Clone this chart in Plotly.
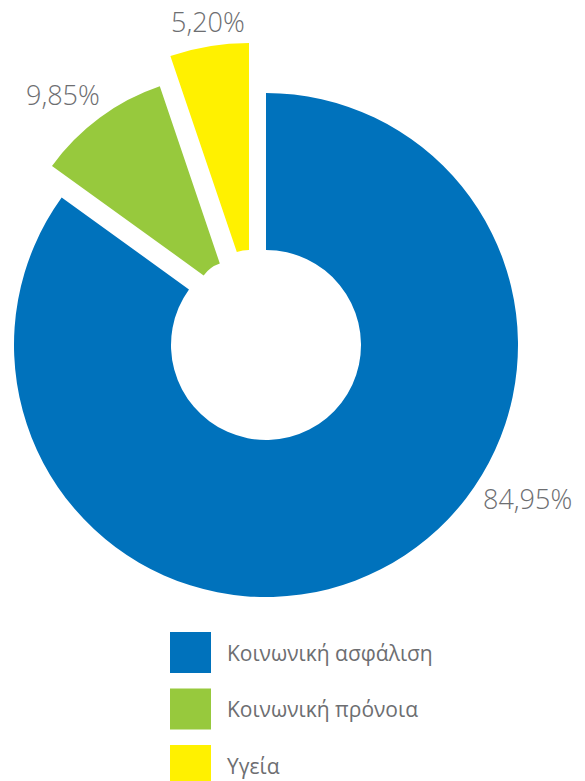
import plotly.graph_objects as go

# ---- data ----
categories = ["Κοινωνική ασφάλιση", "Κοινωνική πρόνοια", "Υγεία"]
shares = [84.95, 9.85, 5.20]
share_labels = ["84,95%", "9,85%", "5,20%"]
colors = ["#0072BC", "#97C93D", "#FFF100"]

# ---- layout geometry (pixels) ----
W, H = 585, 781
TRANSPARENT = "rgba(0,0,0,0)"
FONT = "Open Sans, Noto Sans, sans-serif"
TEXT_COLOR = "#6d6e71"

# each slice drawn as its own pie at its (exploded) centre: (cx, cy, radius, hole)
slice_geom = [
    (266, 345, 252, 0.377),
    (230.4, 294.7, 220, 0.15),
    (249, 288, 245, 0.155),
]
label_pos = [(527, 498), (63, 94), (208, 21)]


def dom(cx, cy, r):
    return dict(x=[(cx - r) / W, (cx + r) / W],
                y=[1 - (cy + r) / H, 1 - (cy - r) / H])


fig = go.Figure()

for i, (cx, cy, r, hole) in enumerate(slice_geom):
    cols = [colors[j] if j == i else TRANSPARENT for j in range(len(shares))]
    fig.add_trace(go.Pie(
        labels=categories,
        values=shares,
        sort=False,
        direction="clockwise",
        rotation=0,
        hole=hole,
        marker=dict(colors=cols, line=dict(width=0)),
        textinfo="none",
        hoverinfo="skip" if i else "label+percent",
        domain=dom(cx, cy, r),
        showlegend=False,
    ))

# legend built from the category list
leg_x, leg_y0, leg_step, leg_size = 190.5, 652.5, 56.5, 41
fig.add_trace(go.Scatter(
    x=[leg_x] * len(categories),
    y=[leg_y0 + k * leg_step for k in range(len(categories))],
    mode="markers",
    marker=dict(symbol="square", size=leg_size, color=colors, line=dict(width=0)),
    hoverinfo="skip",
    showlegend=False,
    xaxis="x", yaxis="y",
))

annotations = []
for k, name in enumerate(categories):
    annotations.append(dict(
        x=225, y=leg_y0 + k * leg_step, xref="x", yref="y",
        text=name, showarrow=False, xanchor="left", yanchor="middle",
        font=dict(family=FONT, size=21, color=TEXT_COLOR),
    ))
for (lx, ly), txt in zip(label_pos, share_labels):
    annotations.append(dict(
        x=lx, y=ly, xref="x", yref="y",
        text=txt, showarrow=False, xanchor="center", yanchor="middle",
        font=dict(family=FONT, size=27, color=TEXT_COLOR, weight=300),
    ))

fig.update_layout(
    width=W, height=H,
    margin=dict(l=0, r=0, t=0, b=0),
    paper_bgcolor="white",
    plot_bgcolor="white",
    showlegend=False,
    xaxis=dict(range=[0, W], domain=[0, 1], visible=False, fixedrange=True),
    yaxis=dict(range=[H, 0], domain=[0, 1], visible=False, fixedrange=True),
    annotations=annotations,
)

fig.write_html("out.html", config={"displayModeBar": False},
               post_script="document.body.style.margin='0';")
